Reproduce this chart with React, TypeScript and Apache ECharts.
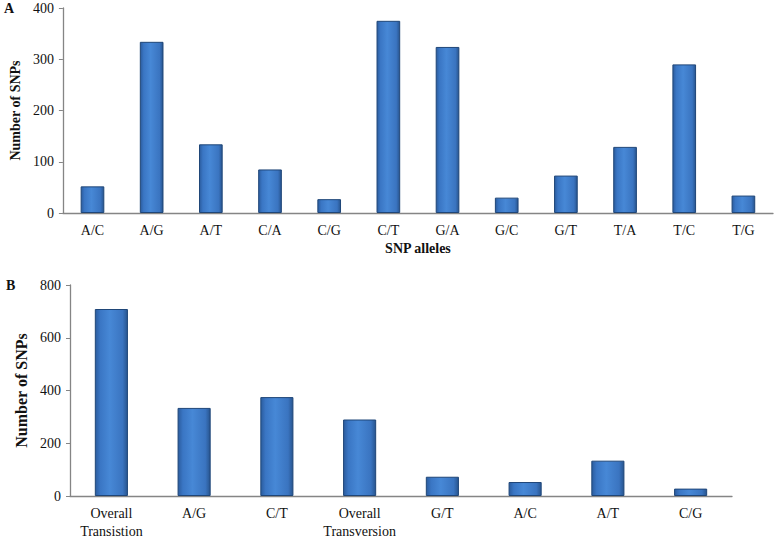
import React, { useEffect, useRef } from "react";
import * as echarts from "echarts";

const allelesA = ["A/C", "A/G", "A/T", "C/A", "C/G", "C/T", "G/A", "G/C", "G/T", "T/A", "T/C", "T/G"];
const countsA = [52, 334, 134, 85, 27, 375, 324, 30, 73, 129, 290, 34];

const categoriesB = ["Overall\nTransistion", "A/G", "C/T", "Overall\nTransversion", "G/T", "A/C", "A/T", "C/G"];
const countsB = [709, 334, 375, 290, 73, 53, 134, 28];

const ticksA = { min: 0, max: 400, interval: 100 };
const ticksB = { min: 0, max: 800, interval: 200 };

const FONT = "'Liberation Serif', 'Times New Roman', serif";

export default function App() {
  const ref = useRef<HTMLDivElement>(null);
  useEffect(() => {
    if (!ref.current) return;
    const chart = echarts.init(ref.current, null, { renderer: "svg" });
    const barColor = {
      type: "linear",
      x: 0,
      y: 0,
      x2: 1,
      y2: 0,
      colorStops: [
        { offset: 0, color: "#2b5c9e" },
        { offset: 0.15, color: "#3a76c4" },
        { offset: 0.45, color: "#4788d6" },
        { offset: 0.85, color: "#3a74c0" },
        { offset: 1, color: "#28558f" },
      ],
    };
    const axisLine = { lineStyle: { color: "#858585", width: 1.3 } };
    const axisLabel = { color: "#111", fontFamily: FONT, fontSize: 14, interval: 0 };
    const nameStyle = { color: "#111", fontFamily: FONT, fontSize: 14, fontWeight: "bold" };
    chart.setOption({
      animation: false,
      backgroundColor: "#fff",
      grid: [
        { left: 57, right: 4, top: 8, height: 205 },
        { left: 70, right: 45, top: 285, height: 215 },
      ],
      xAxis: [
        {
          type: "category",
          gridIndex: 0,
          data: allelesA,
          axisLine,
          axisTick: { alignWithLabel: true, length: 5, lineStyle: { color: "#858585" } },
          axisLabel: { ...axisLabel, margin: 10 },
          name: "SNP alleles",
          nameLocation: "middle",
          nameGap: 28,
          nameTextStyle: nameStyle,
        },
        {
          type: "category",
          gridIndex: 1,
          data: categoriesB,
          axisLine,
          axisTick: { alignWithLabel: true, length: 5, lineStyle: { color: "#858585" } },
          axisLabel: { ...axisLabel, margin: 8, lineHeight: 18 },
        },
      ],
      yAxis: [
        {
          type: "value",
          gridIndex: 0,
          ...ticksA,
          axisLine: { show: true, ...axisLine },
          axisTick: { show: true, length: 4, lineStyle: { color: "#858585" } },
          splitLine: { show: false },
          axisLabel: { color: "#111", fontFamily: FONT, fontSize: 14, margin: 9 },
          name: "Number of SNPs",
          nameLocation: "middle",
          nameGap: 38,
          nameTextStyle: nameStyle,
        },
        {
          type: "value",
          gridIndex: 1,
          ...ticksB,
          axisLine: { show: true, ...axisLine },
          axisTick: { show: true, length: 4, lineStyle: { color: "#858585" } },
          splitLine: { show: false },
          axisLabel: { color: "#111", fontFamily: FONT, fontSize: 14, margin: 9 },
          name: "Number of SNPs",
          nameLocation: "middle",
          nameGap: 38,
          nameTextStyle: { ...nameStyle, fontSize: 16 },
        },
      ],
      series: [
        {
          type: "bar",
          xAxisIndex: 0,
          yAxisIndex: 0,
          data: countsA,
          barWidth: "40%",
          itemStyle: { color: barColor, borderColor: "#1f4678", borderWidth: 1 },
        },
        {
          type: "bar",
          xAxisIndex: 1,
          yAxisIndex: 1,
          data: countsB,
          barWidth: "40%",
          itemStyle: { color: barColor, borderColor: "#1f4678", borderWidth: 1 },
        },
      ],
      graphic: [
        { type: "text", left: 4, top: 1, style: { text: "A", font: `bold 14px ${FONT}`, fill: "#111" } },
        { type: "text", left: 6, top: 278, style: { text: "B", font: `bold 14px ${FONT}`, fill: "#111" } },
      ],
    });
    return () => chart.dispose();
  }, []);
  return <div ref={ref} style={{ position: "fixed", left: 0, top: 0, width: 777, height: 540 }} />;
}
